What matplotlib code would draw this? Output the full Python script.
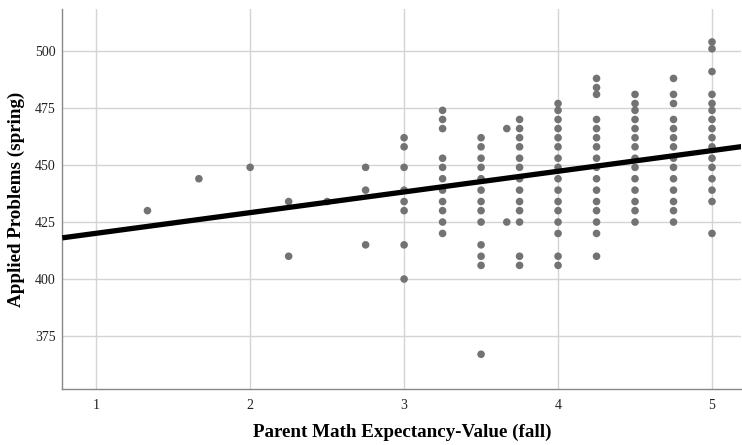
import matplotlib
matplotlib.use("Agg")
import matplotlib.pyplot as plt
import numpy as np

# Data (x = expectancy-value score, y = applied problems)
x_vals = (
    [1.333, 1.667, 2.0, 2.25, 2.25, 2.5, 2.75, 2.75, 2.75]
    + [3.0] * 8
    + [3.25] * 11
    + [3.5] * 13
    + [3.667] * 2
    + [3.75] * 13
    + [4.0] * 16
    + [4.25] * 16
    + [4.5] * 14
    + [4.75] * 14
    + [5.0] * 16
)
y_vals = (
    [430, 444, 449, 434, 410, 434, 449, 439, 415]
    + [462, 458, 449, 439, 434, 430, 415, 400]
    + [474, 470, 466, 453, 449, 444, 439, 434, 430, 425, 420]
    + [462, 458, 453, 449, 444, 439, 434, 430, 425, 415, 410, 406, 367]
    + [466, 425]
    + [470, 466, 462, 458, 453, 449, 444, 439, 434, 430, 425, 410, 406]
    + [477, 474, 470, 466, 462, 458, 453, 449, 444, 439, 434, 430, 425, 420, 410, 406]
    + [488, 484, 481, 470, 466, 462, 458, 453, 449, 444, 439, 434, 430, 425, 420, 410]
    + [481, 477, 474, 470, 466, 462, 458, 453, 449, 444, 439, 434, 430, 425]
    + [488, 481, 477, 470, 466, 462, 458, 453, 449, 444, 439, 434, 430, 425]
    + [504, 501, 491, 481, 477, 474, 470, 466, 462, 458, 453, 449, 444, 439, 434, 420]
)
fit_intercept = 411.0
fit_slope = 9.07

x_ticks = [1, 2, 3, 4, 5]
y_ticks = [375, 400, 425, 450, 475, 500]
x_label = "Parent Math Expectancy-Value (fall)"
y_label = "Applied Problems (spring)"

plt.rcParams["font.family"] = ["Liberation Serif", "DejaVu Serif"]

fig = plt.figure(figsize=(7.42, 4.45), dpi=100)
ax = fig.add_axes([0.084, 0.126, 0.915, 0.854])

xlim = (0.78, 5.19)
ylim = (351.8, 518.5)
ax.set_xlim(*xlim)
ax.set_ylim(*ylim)

ax.grid(True, color="#d4d4d4", linewidth=1.0)
ax.set_axisbelow(True)

ax.scatter(x_vals, y_vals, s=30, color="#737373", edgecolors="none", zorder=3)

xs = np.array(xlim)
ax.plot(xs, fit_intercept + fit_slope * xs, color="black", linewidth=3.8,
        solid_capstyle="butt", zorder=4)

ax.set_xticks(x_ticks)
ax.set_yticks(y_ticks)
ax.tick_params(axis="both", length=0, labelsize=10, colors="#222222")
ax.tick_params(axis="x", pad=7)
ax.tick_params(axis="y", pad=5)

for s in ["top", "right"]:
    ax.spines[s].set_visible(False)
for s in ["left", "bottom"]:
    ax.spines[s].set_color("#888888")
    ax.spines[s].set_linewidth(1.0)

ax.set_xlabel(x_label, fontsize=13.7, fontweight="bold", labelpad=9)
ax.set_ylabel(y_label, fontsize=13.7, fontweight="bold", labelpad=7)

fig.savefig("out.png", dpi=100)
